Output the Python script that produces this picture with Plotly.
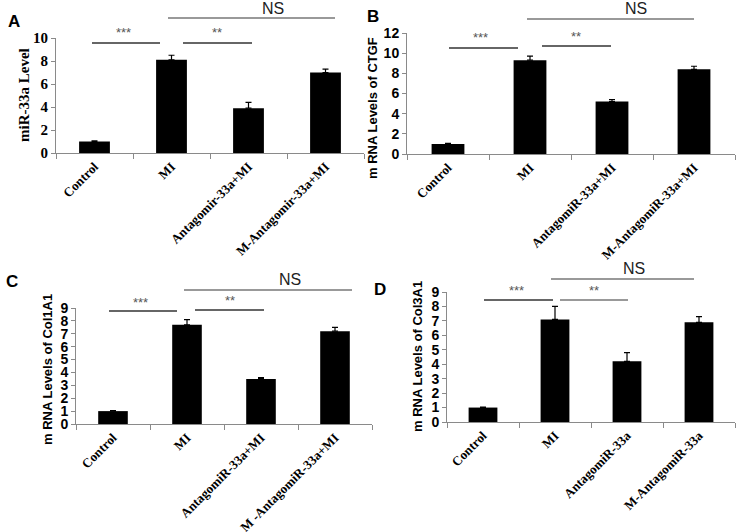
import plotly.graph_objects as go

W, H = 736, 532

cats_A = ["Control", "MI", "Antagomir-33a+MI", "M-Antagomir-33a+MI"]
cats_B = ["Control", "MI", "AntagomiR-33a+MI", "M-AntagomiR-33a+MI"]
cats_C = ["Control", "MI", "AntagomiR-33a+MI", "M -AntagomiR-33a+MI"]
cats_D = ["Control", "MI", "AntagomiR-33a", "M-AntagomiR-33a"]

vals_A = [1.0, 8.1, 3.9, 7.0]
err_A = [0.05, 0.4, 0.5, 0.3]
vals_B = [1.0, 9.3, 5.2, 8.4]
err_B = [0.05, 0.4, 0.2, 0.3]
vals_C = [1.0, 7.7, 3.5, 7.2]
err_C = [0.03, 0.4, 0.1, 0.3]
vals_D = [1.0, 7.1, 4.2, 6.9]
err_D = [0.03, 0.9, 0.6, 0.4]

ytitles = ["miR-33a Level", "m RNA Levels of CTGF", "m RNA Levels of Col1A1", "m RNA Levels of Col3A1"]
letters = ["A", "B", "C", "D"]

SERIF = "Liberation Serif"
SANS = "Liberation Sans"

# panel geometry in pixels: (x_left, x_right, y_zero_px, y_top_px, ymax, dtick, title_x, title_y, title_size)
panels = [
    (56, 364, 153, 38, 10, 2, 24, 95, 15),
    (407, 735, 154, 33, 12, 2, 373, 108, 13),
    (76, 372, 424, 308, 9, 1, 47, 370, 13),
    (447, 735, 422, 292, 9, 1, 417, 357, 13),
]
datasets = [(cats_A, vals_A, err_A), (cats_B, vals_B, err_B), (cats_C, vals_C, err_C), (cats_D, vals_D, err_D)]


def PX(x):
    return x / W


def PY(y):
    return 1 - y / H


fig = go.Figure()
layout = dict(width=W, height=H, margin=dict(l=0, r=0, t=0, b=0), showlegend=False,
              plot_bgcolor="white", paper_bgcolor="white")
annots = []

for i, ((x0, x1, y0, y1, ymax, dt, tx, ty, ts), (cats, vals, errs)) in enumerate(zip(panels, datasets)):
    k = "" if i == 0 else str(i + 1)
    fig.add_trace(go.Bar(x=cats, y=vals, width=0.4, marker=dict(color="black", line=dict(width=0)),
                         error_y=dict(type="data", symmetric=False, array=errs, arrayminus=[0] * 4,
                                      color="black", thickness=1.2, width=3),
                         xaxis="x" + k, yaxis="y" + k))
    yfam = SERIF if i == 0 else SANS
    layout["xaxis" + k] = dict(domain=[PX(x0), PX(x1)], anchor="y" + k, type="category", automargin=False,
                               showline=True, linecolor="#8a8a8a", linewidth=1,
                               ticks="outside", tickson="boundaries", ticklen=5, tickcolor="#8a8a8a",
                               tickangle=-45, showgrid=False,
                               tickfont=dict(family=SERIF, size=13, color="black", weight="bold"))
    layout["yaxis" + k] = dict(domain=[PY(y0), PY(y1)], anchor="x" + k, range=[0, ymax],
                               automargin=False,
                               dtick=dt, showline=True, linecolor="#8a8a8a", linewidth=1,
                               ticks="outside", ticklen=4, tickcolor="#8a8a8a", showgrid=False,
                               zeroline=False,
                               tickfont=dict(family=yfam, size=15 if i == 0 else 14,
                                             color="black", weight="bold"))
    annots.append(dict(text="<b>%s</b>" % ytitles[i], xref="paper", yref="paper", x=PX(tx), y=PY(ty),
                       showarrow=False, textangle=-90, xanchor="center", yanchor="middle",
                       font=dict(family=yfam, size=ts, color="black")))
fig.update_layout(**layout)

# significance bars (pixels): (x0, x1, y, label, label_x, label_y, color)
sig = [
    (92, 160, 43, "***", 123, 33, "#333"), (183, 252, 43, "**", 217, 33, "#333"), (168, 335, 18, "NS", 273, 8, "#777"),
    (449, 518, 48, "***", 480, 38, "#333"), (542, 611, 46, "**", 576, 36, "#333"), (527, 694, 19, "NS", 636, 9, "#777"),
    (109, 177, 311, "***", 140, 302, "#333"), (195, 264, 310, "**", 230, 300, "#333"), (184, 352, 290, "NS", 290, 279, "#777"),
    (484, 553, 300, "***", 516, 290, "#333"), (560, 628, 300, "**", 594, 290, "#777"), (551, 694, 279, "NS", 634, 268, "#777"),
]
shapes = []
for (a, b, y, lab, lx, ly, c) in sig:
    shapes.append(dict(type="line", xref="paper", yref="paper", x0=PX(a), x1=PX(b), y0=PY(y), y1=PY(y),
                       line=dict(color=c, width=1.5)))
    annots.append(dict(text=lab, xref="paper", yref="paper", x=PX(lx), y=PY(ly), showarrow=False,
                       xanchor="center", yanchor="middle",
                       font=dict(family=SANS, size=16 if lab == "NS" else 13,
                                 color="#222" if lab == "NS" else "#555")))

for lab, (lx, ly) in zip(letters, [(14, 22), (373, 16), (12, 281), (380, 289)]):
    annots.append(dict(text="<b>%s</b>" % lab, xref="paper", yref="paper", x=PX(lx), y=PY(ly), showarrow=False,
                       xanchor="center", yanchor="middle", font=dict(family=SANS, size=17, color="black")))

fig.update_layout(shapes=shapes, annotations=annots)
fig.write_html("out.html", config={"displayModeBar": False},
               post_script="document.body.style.margin='0px';document.body.style.overflow='hidden';")
